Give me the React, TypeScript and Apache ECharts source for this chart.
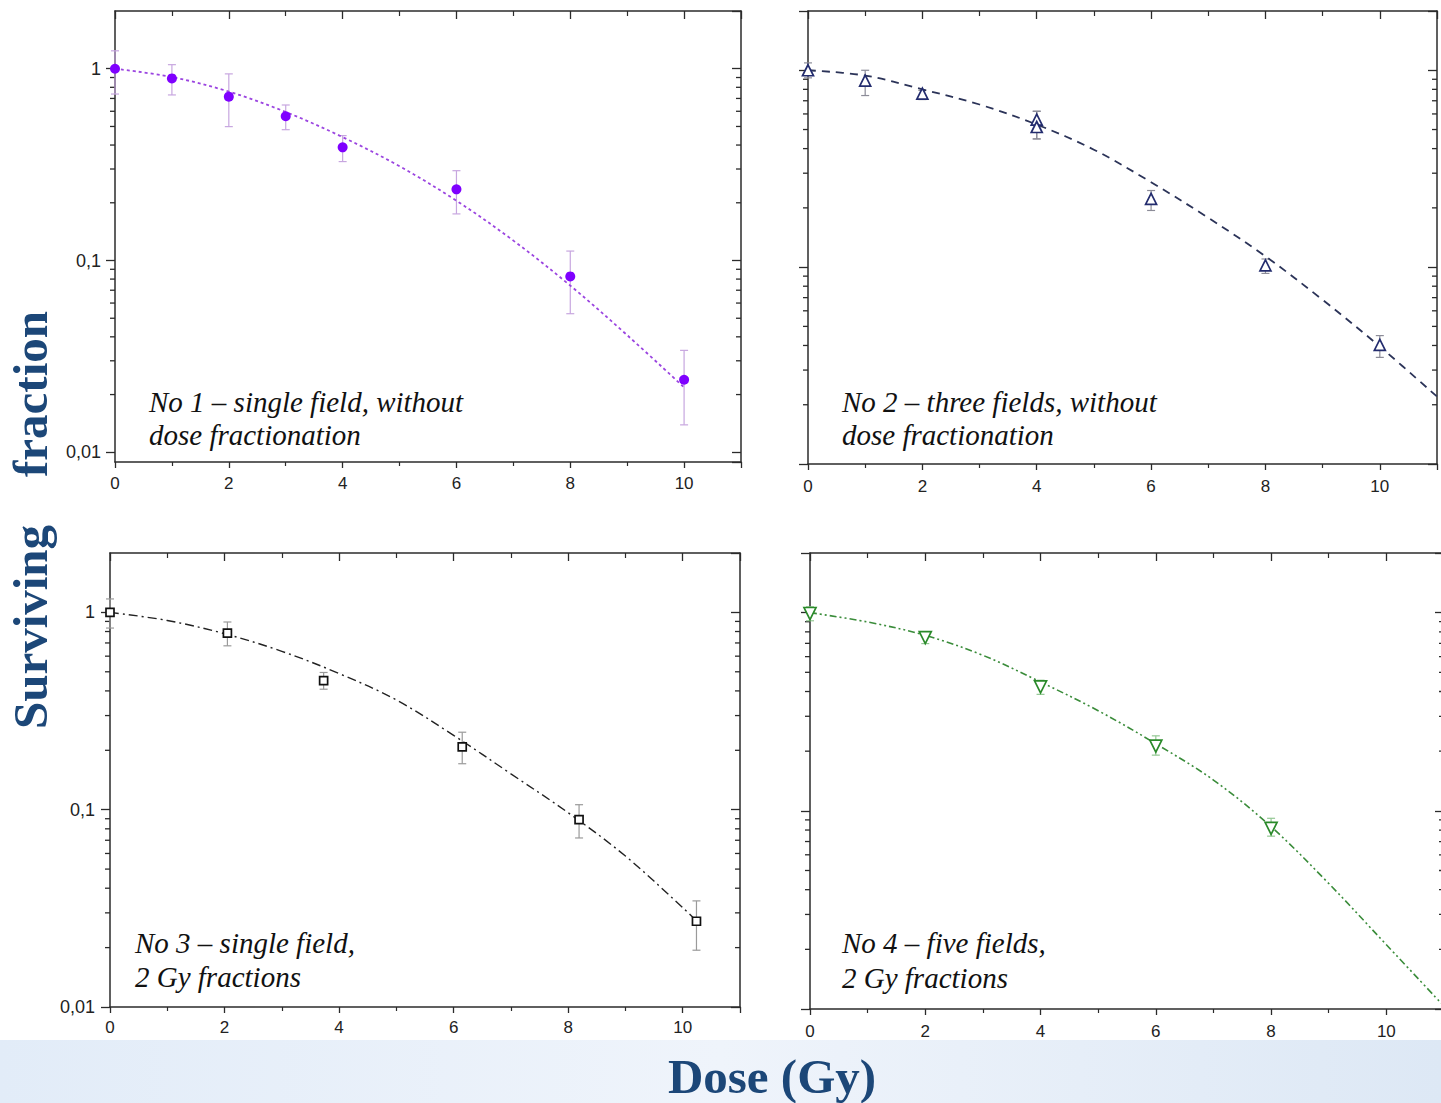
import React, { useEffect, useRef } from "react";
import * as echarts from "echarts";

// ---------- data ----------
const X_MIN = 0;
const X_MAX = 11;
const X_STEP = 2;
const Y_MAX = 2;
const Y_MINS = [0.0089, 0.01, 0.01, 0.01];
const MINOR_TICKS = [0.02, 0.03, 0.04, 0.05, 0.06, 0.07, 0.08, 0.09, 0.2, 0.3, 0.4, 0.5, 0.6, 0.7, 0.8, 0.9];

// No 1 – single field, without dose fractionation
const P1_X = [0, 1, 2, 3, 4, 6, 8, 10];
const P1_Y = [1.0, 0.89, 0.715, 0.565, 0.389, 0.235, 0.0826, 0.0239];
const P1_HI = [1.24, 1.05, 0.94, 0.647, 0.448, 0.294, 0.112, 0.034];
const P1_LO = [0.738, 0.73, 0.499, 0.481, 0.328, 0.175, 0.0528, 0.0139];
const P1_FIT_X = [0, 1, 2, 3, 4, 5, 6, 7, 8, 9, 10];
const P1_FIT_Y = [1.0, 0.905, 0.76, 0.595, 0.44, 0.31, 0.205, 0.127, 0.074, 0.0408, 0.0218];

// No 2 – three fields, without dose fractionation
const P2_X = [0, 1, 2, 4, 4, 6, 8, 10];
const P2_Y = [1.0, 0.886, 0.761, 0.562, 0.515, 0.222, 0.102, 0.0403];
const P2_HI = [1.09, 1.0, 0.79, 0.619, 0.619, 0.245, 0.11, 0.0449];
const P2_LO = [0.915, 0.744, 0.71, 0.448, 0.448, 0.194, 0.0929, 0.0348];
const P2_FIT_X = [0, 1, 2, 3, 4, 5, 6, 7, 8, 9, 10, 11];
const P2_FIT_Y = [1.0, 0.94, 0.8, 0.67, 0.53, 0.395, 0.27, 0.178, 0.1135, 0.0682, 0.0395, 0.022];

// No 3 – single field, 2 Gy fractions
const P3_X = [0, 2.05, 3.73, 6.15, 8.19, 10.24];
const P3_Y = [1.0, 0.786, 0.451, 0.208, 0.0891, 0.0272];
const P3_HI = [1.17, 0.894, 0.496, 0.247, 0.106, 0.0345];
const P3_LO = [0.833, 0.677, 0.408, 0.171, 0.0719, 0.0194];
const P3_FIT_X = [0, 1, 2, 3, 4, 5, 6, 7, 8, 9, 10, 10.2];
const P3_FIT_Y = [1.0, 0.91, 0.78, 0.635, 0.49, 0.36, 0.238, 0.152, 0.0965, 0.0582, 0.0319, 0.028];

// No 4 – five fields, 2 Gy fractions
const P4_X = [0, 2, 4, 6, 8];
const P4_Y = [0.99, 0.748, 0.422, 0.212, 0.0816];
const P4_HI = [1.07, 0.8, 0.456, 0.239, 0.0917];
const P4_LO = [0.91, 0.698, 0.387, 0.191, 0.0745];
const P4_FIT_X = [0, 1, 2, 3, 4, 5, 6, 7, 8, 9, 10, 10.95];
const P4_FIT_Y = [1.0, 0.897, 0.768, 0.609, 0.447, 0.32, 0.218, 0.143, 0.0832, 0.043, 0.0211, 0.0107];

const ANNOTATIONS = [
  ["No 1 – single field, without", "dose fractionation"],
  ["No 2 – three fields, without", "dose fractionation"],
  ["No 3 – single field,", "2 Gy fractions"],
  ["No 4 – five fields,", "2 Gy fractions"],
];
const Y_TITLE = ["Surviving", "fraction"];
const X_TITLE = "Dose (Gy)";

// ---------- layout & style ----------
const W = 1441;
const H = 1103;
const AXIS = "#2b2b2b";
const TITLE_BLUE = "#1c4778";
const GRIDS = [
  { left: 115, top: 11, width: 626, height: 451, yLabels: true, yMargin: 14, xMargin: 13, ann: [149, 402, 435] },
  { left: 808, top: 11, width: 629, height: 453, yLabels: false, yMargin: 14, xMargin: 14, ann: [842, 402, 435] },
  { left: 110, top: 553, width: 630, height: 454, yLabels: true, yMargin: 15, xMargin: 12, ann: [135, 943, 977] },
  { left: 810, top: 553, width: 634, height: 456, yLabels: false, yMargin: 14, xMargin: 14, ann: [842, 943, 978] },
];
const PANELS = [
  { x: P1_X, y: P1_Y, hi: P1_HI, lo: P1_LO, fx: P1_FIT_X, fy: P1_FIT_Y,
    symbol: "circle", size: 10, fill: "#7f00ff", stroke: "#7f00ff", rotate: 0,
    line: "#9b45e0", dash: [3, 3], lw: 1.8, err: "#c7a6df" },
  { x: P2_X, y: P2_Y, hi: P2_HI, lo: P2_LO, fx: P2_FIT_X, fy: P2_FIT_Y,
    symbol: "triangle", size: 11, fill: "#ffffff", stroke: "#232c6e", rotate: 0,
    line: "#2b3358", dash: [8, 6], lw: 1.8, err: "#8c8c98" },
  { x: P3_X, y: P3_Y, hi: P3_HI, lo: P3_LO, fx: P3_FIT_X, fy: P3_FIT_Y,
    symbol: "rect", size: 8, fill: "#ffffff", stroke: "#111111", rotate: 0,
    line: "#222222", dash: [9, 4, 2, 4], lw: 1.4, err: "#9a9a9a" },
  { x: P4_X, y: P4_Y, hi: P4_HI, lo: P4_LO, fx: P4_FIT_X, fy: P4_FIT_Y,
    symbol: "triangle", size: 12, fill: "#ffffff", stroke: "#2a8a2a", rotate: 180,
    line: "#3a8c3a", dash: [7, 3, 2, 3, 2, 3], lw: 1.6, err: "#94c894" },
];

const fmtY = (v: number) => String(+Number(v).toPrecision(6)).replace(".", ",");

function buildOption() {
  const grid: any[] = [];
  const xAxis: any[] = [];
  const yAxis: any[] = [];
  const series: any[] = [];
  const graphic: any[] = [];

  graphic.push({
    type: "rect",
    z: -10,
    shape: { x: 0, y: 1040, width: W, height: H - 1040 },
    style: {
      fill: new echarts.graphic.LinearGradient(0, 0, 1, 0, [
        { offset: 0, color: "#e2ecf8" },
        { offset: 0.5, color: "#eff4fb" },
        { offset: 1, color: "#dde8f5" },
      ]),
    },
  });

  GRIDS.forEach((g, i) => {
    grid.push({ left: g.left, top: g.top, width: g.width, height: g.height, containLabel: false, outerBoundsMode: "none" });
    const common = {
      gridIndex: i, type: "value", min: X_MIN, max: X_MAX, interval: X_STEP,
      splitLine: { show: false },
      axisLine: { show: true, onZero: false, lineStyle: { color: AXIS, width: 1.5 } },
    };
    xAxis.push({
      ...common, position: "bottom",
      axisTick: { show: true, inside: false, length: 6, lineStyle: { color: AXIS, width: 1.3 } },
      minorTick: { show: true, splitNumber: 2, length: 4, lineStyle: { color: AXIS, width: 1.2 } },
      axisLabel: { show: true, margin: g.xMargin, showMaxLabel: false, color: "#222", fontSize: 17, fontFamily: "Liberation Sans" },
    });
    xAxis.push({
      ...common, position: "top",
      axisTick: { show: true, inside: true, length: 8, lineStyle: { color: AXIS, width: 1.3 } },
      minorTick: { show: true, splitNumber: 2, length: 5, lineStyle: { color: AXIS, width: 1.2 } },
      axisLabel: { show: false },
    });
    const ycommon = {
      gridIndex: i, type: "log", logBase: 10, min: Y_MINS[i], max: Y_MAX,
      splitLine: { show: false },
      axisLine: { show: true, onZero: false, lineStyle: { color: AXIS, width: 1.5 } },
    };
    yAxis.push({
      ...ycommon, position: "left",
      axisTick: { show: true, inside: false, length: 9, lineStyle: { color: AXIS, width: 1.3 } },
      axisLabel: {
        show: g.yLabels, margin: g.yMargin, showMinLabel: i === 0 ? false : true, showMaxLabel: false,
        color: "#222", fontSize: 18, fontFamily: "Liberation Sans", formatter: fmtY,
      },
    });
    yAxis.push({
      ...ycommon, position: "right",
      axisTick: { show: true, inside: true, length: 9, lineStyle: { color: AXIS, width: 1.3 } },
      axisLabel: { show: false },
    });

    const xi = 2 * i;
    const yi = 2 * i;
    // minor log ticks (2..9 × decade) through the axes' own scales
    series.push({
      type: "custom", xAxisIndex: xi, yAxisIndex: yi, clip: false, silent: true, z: 1,
      data: MINOR_TICKS.filter((v) => v > Y_MINS[i] && v < Y_MAX).map((v) => [X_MIN, v]),
      encode: { x: 0, y: 1 },
      renderItem: (_p: any, api: any) => {
        const v = api.value(1);
        const l = api.coord([X_MIN, v]);
        const r = api.coord([X_MAX, v]);
        const st = { stroke: AXIS, lineWidth: 1.3 };
        return {
          type: "group",
          children: [
            { type: "line", shape: { x1: l[0] - 5, y1: l[1], x2: l[0], y2: l[1] }, style: st },
            { type: "line", shape: { x1: r[0] - 5, y1: r[1], x2: r[0], y2: r[1] }, style: st },
          ],
        };
      },
    });

    const p = PANELS[i];
    // error bars
    series.push({
      type: "custom", xAxisIndex: xi, yAxisIndex: yi, clip: false, silent: true, z: 2,
      data: p.x.map((x, k) => [x, p.lo[k], p.hi[k]]),
      encode: { x: 0, y: [1, 2] },
      renderItem: (_p: any, api: any) => {
        const x = api.value(0);
        const a = api.coord([x, api.value(2)]);
        const b = api.coord([x, api.value(1)]);
        const w = 4;
        const st = { stroke: p.err, lineWidth: 1.2 };
        return {
          type: "group",
          children: [
            { type: "line", shape: { x1: a[0], y1: a[1], x2: b[0], y2: b[1] }, style: st },
            { type: "line", shape: { x1: a[0] - w, y1: a[1], x2: a[0] + w, y2: a[1] }, style: st },
            { type: "line", shape: { x1: b[0] - w, y1: b[1], x2: b[0] + w, y2: b[1] }, style: st },
          ],
        };
      },
    });
    // fitted curve
    series.push({
      type: "line", xAxisIndex: xi, yAxisIndex: yi, z: 3, smooth: 0.35,
      showSymbol: false, symbol: "none", silent: true,
      data: p.fx.map((x, k) => [x, p.fy[k]]),
      lineStyle: { color: p.line, width: p.lw, type: p.dash },
    });
    // measured points
    series.push({
      type: "scatter", xAxisIndex: xi, yAxisIndex: yi, z: 4,
      symbol: p.symbol, symbolSize: p.size, symbolRotate: p.rotate,
      data: p.x.map((x, k) => [x, p.y[k]]),
      itemStyle: { color: p.fill, borderColor: p.stroke, borderWidth: p.symbol === "circle" ? 0 : 1.7, opacity: 1 },
    });

    // annotation text
    const [ax, ay1, ay2] = g.ann;
    [ay1, ay2].forEach((yy, k) => {
      graphic.push({
        type: "text", x: ax, y: yy, z: 10,
        style: {
          text: ANNOTATIONS[i][k], font: 'italic 29px "Liberation Serif"', fill: "#111",
          textAlign: "left", textVerticalAlign: "middle", align: "left", verticalAlign: "middle",
        },
      });
    });
  });

  // big axis titles
  graphic.push({
    type: "text", x: 30, y: 627, rotation: Math.PI / 2, z: 10,
    style: { text: Y_TITLE[0], font: 'bold 49px "Liberation Serif"', fill: TITLE_BLUE,
      textAlign: "center", textVerticalAlign: "middle", align: "center", verticalAlign: "middle" },
  });
  graphic.push({
    type: "text", x: 30, y: 394, rotation: Math.PI / 2, z: 10,
    style: { text: Y_TITLE[1], font: 'bold 49px "Liberation Serif"', fill: TITLE_BLUE,
      textAlign: "center", textVerticalAlign: "middle", align: "center", verticalAlign: "middle" },
  });
  graphic.push({
    type: "text", x: 772, y: 1076, z: 10,
    style: { text: X_TITLE, font: 'bold 49px "Liberation Serif"', fill: TITLE_BLUE,
      textAlign: "center", textVerticalAlign: "middle", align: "center", verticalAlign: "middle" },
  });

  return {
    animation: false,
    backgroundColor: "#ffffff",
    grid, xAxis, yAxis, series, graphic,
  };
}

export default function App() {
  const ref = useRef<HTMLDivElement>(null);
  useEffect(() => {
    if (!ref.current) return;
    const chart = echarts.init(ref.current, undefined, { renderer: "svg", width: W, height: H });
    chart.setOption(buildOption() as any);
    return () => chart.dispose();
  }, []);
  return (
    <div style={{ position: "fixed", left: 0, top: 0, width: W, height: H, overflow: "hidden", background: "#fff" }}>
      <div ref={ref} style={{ width: W, height: H }} />
    </div>
  );
}
